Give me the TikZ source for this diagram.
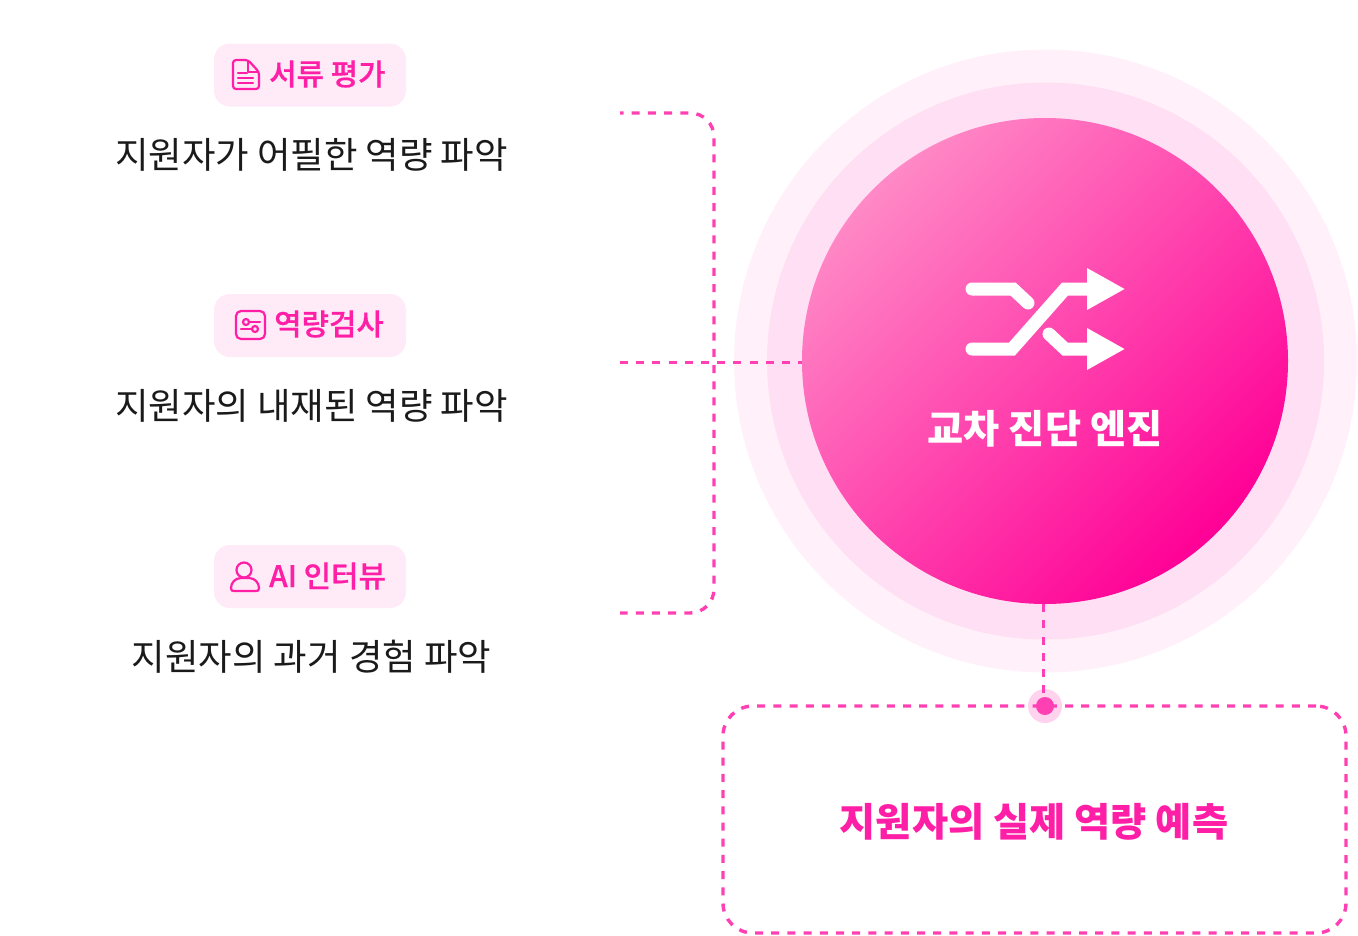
\documentclass[tikz,border=0pt]{standalone}
\usepackage{fontspec}
\setmainfont{Noto Sans CJK KR}
\newfontfamily\pillfont[FakeBold=0.6]{Noto Sans CJK KR Medium}
\usetikzlibrary{positioning,shapes.geometric}
\definecolor{hotpink}{HTML}{FF1EA6}
\definecolor{dashpink}{HTML}{FF40B2}
\definecolor{pillpink}{HTML}{FFEAF8}
\definecolor{ringouter}{HTML}{FFF0F9}
\definecolor{ringinner}{HTML}{FFDFF3}
\definecolor{halopink}{HTML}{FFD2EE}
\definecolor{enginelight}{HTML}{FF89C6}
\definecolor{enginedark}{HTML}{FF0096}
\definecolor{bodyink}{HTML}{1A1A1A}
\tikzset{
    pill/.style={rectangle,rounded corners=16pt,fill=pillpink,minimum width=192pt,minimum height=63pt,inner sep=0pt},
    pilltext/.style={text=hotpink,font=\fontsize{29.8}{30}\pillfont,inner sep=0pt,anchor=west},
    bodytext/.style={text=bodyink,font=\fontsize{36.4}{36}\selectfont,inner sep=0pt},
    bigtext/.style={font=\fontsize{39.3}{40}\selectfont\bfseries,inner sep=0pt},
    ring/.style={circle,inner sep=0pt},
    dashline/.style={draw=dashpink,line width=3.4pt,dash pattern=on 8pt off 8.2pt},
    iconline/.style={draw=hotpink,line width=2.2pt,line join=round,line cap=round},
    shuffleline/.style={draw=white,line width=13pt,line cap=round},
    shufflehead/.style={fill=white}
}
\begin{document}
\begin{tikzpicture}[x=1pt,y=-1pt]
        \useasboundingbox (0,0) rectangle (1358,935);

        \node[ring,fill=ringouter,minimum size=623pt] (ringa) at (1045.5,361) {};
        \node[ring,fill=ringinner,minimum size=557pt] (ringb) at (1045.5,361) {};
        \node[ring,minimum size=486pt,top color=enginelight,bottom color=enginedark,shading angle=45] (engine) at (1045,361) {};

        \node[pill] (pilla) at (310,75) {};
        \node[pill] (pillb) at (310,325.5) {};
        \node[pill] (pillc) at (310,576.5) {};
        \node[pilltext] (pilltexta) at (269,74) {서류 평가};
        \node[pilltext] (pilltextb) at (274,324) {역량검사};
        \node[pilltext] (pilltextc) at (269,576) {AI 인터뷰};
        \node[bodytext] (bodya) at (311.5,155) {지원자가 어필한 역량 파악};
        \node[bodytext] (bodyb) at (311.5,406) {지원자의 내재된 역량 파악};
        \node[bodytext] (bodyc) at (311.5,657) {지원자의 과거 경험 파악};

        \draw[iconline,rounded corners=3pt] (240,60) -- (248,60) -- (259,72) -- (259,89) -- (233,89) -- (233,60) -- cycle;
        \draw[iconline] (248,61) -- (248,72) -- (258,72);
        \draw[iconline] (238,73) -- (247,73);
        \draw[iconline] (238,78) -- (253,78);
        \draw[iconline] (238,83) -- (253,83);

        \draw[iconline,rounded corners=5pt] (236,311) rectangle (265,339);
        \draw[iconline] (246,322) circle (3);
        \draw[iconline] (249,322) -- (260,322);
        \draw[iconline] (255,329) circle (3);
        \draw[iconline] (241,329) -- (252,329);

        \draw[iconline] (244,570) circle (7.5);
        \draw[iconline] (241,578) -- (249,578) .. controls (255,578) and (259,583) .. (259,588)
            .. controls (259,590.5) and (258,591) .. (256,591) -- (234,591)
            .. controls (232,591) and (231,590.5) .. (231,588) .. controls (231,583) and (235,578) .. (241,578) -- cycle;

        \coordinate (topend) at (620,113);
        \coordinate (midend) at (620,362.5);
        \coordinate (lowend) at (620,613);
        \coordinate (bracetop) at (714,113);
        \coordinate (bracelow) at (714,613);
        \coordinate (stemend) at (1043.5,706);
        \draw[dashline,dash phase=4.5pt,rounded corners=24pt] (topend) -- (bracetop) -- (bracelow) -- (lowend);
        \draw[dashline] (midend) -- (midend -| engine.west);

        \node[ring,fill=halopink,minimum size=34pt] (halo) at (1045,706) {};
        \node[dashline,rectangle,rounded corners=30pt,minimum width=623pt,minimum height=227pt,inner sep=0pt] (result) at (1034.5,819.5) {};
        \draw[dashline] (engine.south -| stemend) -- (stemend);
        \node[ring,fill=dashpink,minimum size=18pt] (dot) at (1045,706) {};

        \draw[shuffleline] (972,289) -- (1013,289) -- (1028,303);
        \draw[shuffleline] (972,349) -- (1012,349) -- (1065,289) -- (1090,289);
        \draw[shuffleline] (1049,334) -- (1065,349) -- (1090,349);
        \fill[shufflehead] (1087,268) -- (1124.5,289) -- (1087,310) -- cycle;
        \fill[shufflehead] (1087,328) -- (1124.5,349) -- (1087,370) -- cycle;

        \node[bigtext,text=white] (enginetext) at (1045,428.5) {교차 진단 엔진};
        \node[bigtext,text=hotpink] (resulttext) at (1034,822) {지원자의 실제 역량 예측};
\end{tikzpicture}
\end{document}
